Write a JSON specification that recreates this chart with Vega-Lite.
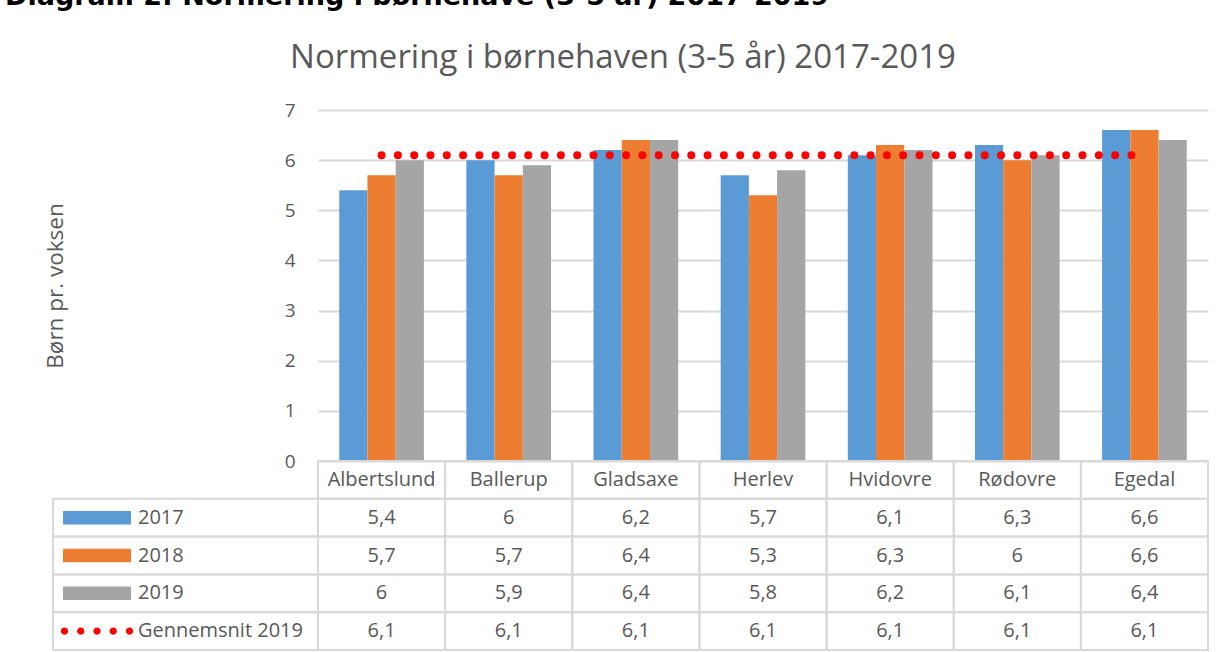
{
  "$schema": "https://vega.github.io/schema/vega-lite/v6.json",
  "padding": {"top": -17, "left": 0, "right": 0, "bottom": 0},
  "background": "white",
  "title": {
    "text": "Diagram 2: Normering i børnehave (3-5 år) 2017-2019",
    "font": "DejaVu Sans",
    "fontSize": 27,
    "fontWeight": "bold",
    "color": "#000000",
    "anchor": "start",
    "baseline": "alphabetic",
    "offset": 10,
    "dx": 5
  },
  "config": {
    "font": "Open Sans",
    "view": {"stroke": null},
    "locale": {
      "number": {"decimal": ",", "thousands": ".", "grouping": [3], "currency": ["", " kr."]}
    }
  },
  "datasets": {
    "tabel": [
      {"kommune": "Albertslund", "serie": "2017", "value": 5.4},
      {"kommune": "Ballerup", "serie": "2017", "value": 6},
      {"kommune": "Gladsaxe", "serie": "2017", "value": 6.2},
      {"kommune": "Herlev", "serie": "2017", "value": 5.7},
      {"kommune": "Hvidovre", "serie": "2017", "value": 6.1},
      {"kommune": "Rødovre", "serie": "2017", "value": 6.3},
      {"kommune": "Egedal", "serie": "2017", "value": 6.6},
      {"kommune": "Albertslund", "serie": "2018", "value": 5.7},
      {"kommune": "Ballerup", "serie": "2018", "value": 5.7},
      {"kommune": "Gladsaxe", "serie": "2018", "value": 6.4},
      {"kommune": "Herlev", "serie": "2018", "value": 5.3},
      {"kommune": "Hvidovre", "serie": "2018", "value": 6.3},
      {"kommune": "Rødovre", "serie": "2018", "value": 6},
      {"kommune": "Egedal", "serie": "2018", "value": 6.6},
      {"kommune": "Albertslund", "serie": "2019", "value": 6},
      {"kommune": "Ballerup", "serie": "2019", "value": 5.9},
      {"kommune": "Gladsaxe", "serie": "2019", "value": 6.4},
      {"kommune": "Herlev", "serie": "2019", "value": 5.8},
      {"kommune": "Hvidovre", "serie": "2019", "value": 6.2},
      {"kommune": "Rødovre", "serie": "2019", "value": 6.1},
      {"kommune": "Egedal", "serie": "2019", "value": 6.4},
      {"kommune": "Albertslund", "serie": "Gennemsnit 2019", "value": 6.1},
      {"kommune": "Ballerup", "serie": "Gennemsnit 2019", "value": 6.1},
      {"kommune": "Gladsaxe", "serie": "Gennemsnit 2019", "value": 6.1},
      {"kommune": "Herlev", "serie": "Gennemsnit 2019", "value": 6.1},
      {"kommune": "Hvidovre", "serie": "Gennemsnit 2019", "value": 6.1},
      {"kommune": "Rødovre", "serie": "Gennemsnit 2019", "value": 6.1},
      {"kommune": "Egedal", "serie": "Gennemsnit 2019", "value": 6.1}
    ],
    "kommuner": [
      {"kommune": "Albertslund"},
      {"kommune": "Ballerup"},
      {"kommune": "Gladsaxe"},
      {"kommune": "Herlev"},
      {"kommune": "Hvidovre"},
      {"kommune": "Rødovre"},
      {"kommune": "Egedal"}
    ],
    "serier": [
      {"serie": "2017"},
      {"serie": "2018"},
      {"serie": "2019"},
      {"serie": "Gennemsnit 2019"}
    ]
  },
  "columns": 2,
  "spacing": 0,
  "bounds": "flush",
  "resolve": {"scale": {"color": "independent", "shape": "independent"}},
  "concat": [
    {
      "width": 318,
      "height": 351,
      "data": {"values": []},
      "mark": "point"
    },
    {
      "width": 890,
      "height": 351,
      "title": {
        "text": "Normering i børnehaven (3-5 år) 2017-2019",
        "font": "Open Sans",
        "fontSize": 33,
        "fontWeight": "normal",
        "color": "#595959",
        "anchor": "middle",
        "baseline": "alphabetic",
        "offset": 0,
        "dx": -140
      },
      "data": {"name": "tabel"},
      "encoding": {
        "x": {
          "field": "kommune",
          "type": "nominal",
          "sort": ["Albertslund", "Ballerup", "Gladsaxe", "Herlev", "Hvidovre", "Rødovre", "Egedal"],
          "scale": {
            "domain": ["Albertslund", "Ballerup", "Gladsaxe", "Herlev", "Hvidovre", "Rødovre", "Egedal"],
            "paddingInner": 0.334,
            "paddingOuter": 0.167
          },
          "axis": null
        },
        "y": {
          "field": "value",
          "type": "quantitative",
          "scale": {"domain": [0, 7], "nice": false},
          "axis": {
            "title": "Børn pr. voksen",
            "values": [0, 1, 2, 3, 4, 5, 6, 7],
            "format": "d",
            "grid": true,
            "gridColor": "#d9d9d9",
            "gridWidth": 2,
            "domain": false,
            "ticks": false,
            "tickSize": 0,
            "labelFlush": false,
            "labelFont": "Open Sans",
            "labelFontSize": 19,
            "labelColor": "#595959",
            "labelPadding": 23,
            "titleFont": "Open Sans",
            "titleFontSize": 22.5,
            "titleFontWeight": "normal",
            "titleColor": "#595959",
            "titlePadding": 217
          }
        }
      },
      "layer": [
        {
          "transform": [{"filter": {"field": "serie", "oneOf": ["2017", "2018", "2019"]}}],
          "mark": {"type": "bar"},
          "encoding": {
            "xOffset": {
              "field": "serie",
              "type": "nominal",
              "scale": {"domain": ["2017", "2018", "2019"], "paddingInner": 0, "paddingOuter": 0}
            },
            "color": {
              "field": "serie",
              "type": "nominal",
              "scale": {
                "domain": ["2017", "2018", "2019", "Gennemsnit 2019"],
                "range": ["#5B9BD5", "#ED7D31", "#A5A5A5", "#FF0000"]
              },
              "legend": null
            }
          }
        },
        {
          "transform": [{"filter": {"field": "serie", "equal": "Gennemsnit 2019"}}],
          "mark": {"type": "line", "color": "#FF0000", "strokeWidth": 8, "strokeDash": [0.001, 16.3], "strokeCap": "round"},
          "encoding": {"order": {"value": null}}
        }
      ]
    },
    {
      "width": 318,
      "height": 189,
      "data": {"name": "serier"},
      "encoding": {
        "x": {
          "datum": "legend",
          "type": "nominal",
          "scale": {"domain": ["legend"], "paddingInner": 0, "paddingOuter": 0.1, "align": 1},
          "axis": null
        },
        "y": {
          "field": "serie",
          "type": "nominal",
          "scale": {"domain": ["header", "2017", "2018", "2019", "Gennemsnit 2019"], "paddingInner": 0, "paddingOuter": 0},
          "axis": null
        }
      },
      "layer": [
        {
          "mark": {"type": "rect", "filled": false, "stroke": "#d9d9d9", "strokeWidth": 2}
        },
        {
          "mark": {"type": "point", "filled": true, "opacity": 1, "size": 4624, "xOffset": -88.5, "strokeWidth": 0},
          "encoding": {
            "shape": {
              "field": "serie",
              "type": "nominal",
              "scale": {
                "domain": ["2017", "2018", "2019", "Gennemsnit 2019"],
                "range": [
                  "M-1,-0.197H1V0.197H-1Z",
                  "M-1,-0.197H1V0.197H-1Z",
                  "M-1,-0.197H1V0.197H-1Z",
                  "M-1.064,0a0.108,0.108 0 1,0 0.216,0a0.108,0.108 0 1,0 -0.216,0ZM-0.586,0a0.108,0.108 0 1,0 0.216,0a0.108,0.108 0 1,0 -0.216,0ZM-0.108,0a0.108,0.108 0 1,0 0.216,0a0.108,0.108 0 1,0 -0.216,0ZM0.37,0a0.108,0.108 0 1,0 0.216,0a0.108,0.108 0 1,0 -0.216,0ZM0.848,0a0.108,0.108 0 1,0 0.216,0a0.108,0.108 0 1,0 -0.216,0Z"
                ]
              },
              "legend": null
            },
            "color": {
              "field": "serie",
              "type": "nominal",
              "scale": {
                "domain": ["2017", "2018", "2019", "Gennemsnit 2019"],
                "range": ["#5B9BD5", "#ED7D31", "#A5A5A5", "#FF0000"]
              },
              "legend": null
            }
          }
        },
        {
          "mark": {"type": "text", "align": "left", "dx": -47.5, "fontSize": 20, "color": "#595959", "font": "Open Sans"},
          "encoding": {"text": {"field": "serie", "type": "nominal"}}
        }
      ]
    },
    {
      "width": 890,
      "height": 189,
      "encoding": {
        "x": {
          "field": "kommune",
          "type": "nominal",
          "scale": {
            "domain": ["Albertslund", "Ballerup", "Gladsaxe", "Herlev", "Hvidovre", "Rødovre", "Egedal"],
            "paddingInner": 0,
            "paddingOuter": 0
          },
          "axis": null
        }
      },
      "layer": [
        {
          "data": {"name": "tabel"},
          "mark": {"type": "rect", "filled": false, "stroke": "#d9d9d9", "strokeWidth": 2},
          "encoding": {
            "y": {
              "field": "serie",
              "type": "nominal",
              "scale": {"domain": ["header", "2017", "2018", "2019", "Gennemsnit 2019"], "paddingInner": 0, "paddingOuter": 0},
              "axis": null
            }
          }
        },
        {
          "data": {"name": "kommuner"},
          "mark": {"type": "rect", "filled": false, "stroke": "#d9d9d9", "strokeWidth": 2},
          "encoding": {
            "y": {
              "datum": "header",
              "type": "nominal",
              "scale": {"domain": ["header", "2017", "2018", "2019", "Gennemsnit 2019"], "paddingInner": 0, "paddingOuter": 0},
              "axis": null
            }
          }
        },
        {
          "data": {"name": "tabel"},
          "mark": {"type": "text", "fontSize": 20, "color": "#595959", "font": "Open Sans"},
          "encoding": {
            "y": {
              "field": "serie",
              "type": "nominal",
              "scale": {"domain": ["header", "2017", "2018", "2019", "Gennemsnit 2019"], "paddingInner": 0, "paddingOuter": 0},
              "axis": null
            },
            "text": {"field": "value", "type": "quantitative", "format": ".1~f"}
          }
        },
        {
          "data": {"name": "kommuner"},
          "mark": {"type": "text", "fontSize": 20, "color": "#595959", "font": "Open Sans"},
          "encoding": {
            "y": {
              "datum": "header",
              "type": "nominal",
              "scale": {"domain": ["header", "2017", "2018", "2019", "Gennemsnit 2019"], "paddingInner": 0, "paddingOuter": 0},
              "axis": null
            },
            "text": {"field": "kommune", "type": "nominal"}
          }
        }
      ]
    }
  ]
}
